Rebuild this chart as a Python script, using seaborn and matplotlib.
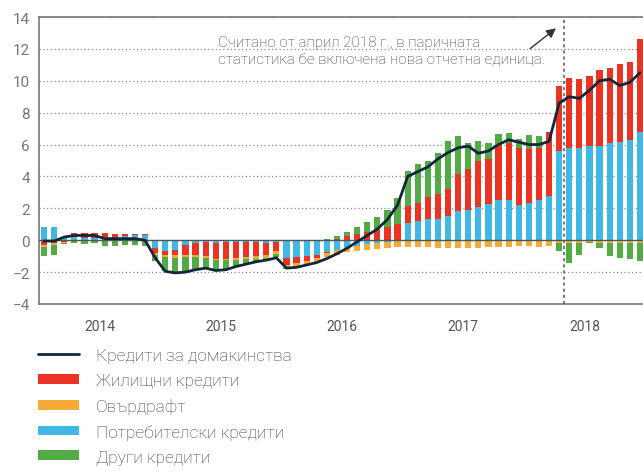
import numpy as np
import pandas as pd
import matplotlib
matplotlib.use('Agg')
import matplotlib.pyplot as plt
import matplotlib.transforms as mtransforms
import seaborn as sns
from matplotlib.lines import Line2D
from matplotlib.patches import Patch

# месечни данни, 01.2014 - 12.2018 (процентни пункти)
months = pd.date_range('2014-01-01', periods=60, freq='MS')
years = ['2014', '2015', '2016', '2017', '2018']

consumer = [0.8, 0.8, 0.2, 0.2, 0.15, 0.15, 0.2, 0.2, 0.25, 0.3, 0.35, -0.5,
            -0.7, -0.6, -0.3, -0.15, -0.1, -0.15, -0.1, -0.1, -0.1, -0.1, -0.15, -0.1,
            -1.1, -1.05, -1.0, -0.9, -0.75, -0.6, -0.45, -0.35, -0.25, -0.15, -0.1, 0.0,
            1.1, 1.2, 1.3, 1.35, 1.5, 1.85, 1.9, 2.1, 2.3, 2.55, 2.55, 2.2,
            2.35, 2.55, 2.8, 5.6, 5.8, 5.8, 5.9, 5.9, 6.1, 6.15, 6.3, 6.8]
housing = [-0.3, -0.2, -0.1, 0.25, 0.3, 0.3, 0.25, 0.2, 0.15, 0.1, 0.05, -0.3,
           -0.2, -0.35, -0.6, -0.8, -0.9, -1.0, -1.05, -1.0, -0.95, -0.9, -0.8, -0.6,
           -0.45, -0.4, -0.3, -0.2, -0.05, 0.1, 0.25, 0.4, 0.5, 0.65, 0.8, 1.0,
           1.05, 1.15, 1.4, 1.55, 1.7, 2.3, 2.55, 2.9, 2.8, 3.35, 3.55, 3.6,
           3.4, 3.25, 4.0, 4.1, 4.35, 4.3, 4.4, 4.8, 4.7, 4.9, 4.9, 5.8]
overdraft = [-0.1, -0.1, -0.05, -0.05, -0.05, -0.05, -0.05, -0.05, -0.05, -0.05, -0.05, -0.1,
             -0.15, -0.15, -0.15, -0.1, -0.1, -0.1, -0.1, -0.15, -0.15, -0.15, -0.15, -0.15,
             -0.2, -0.2, -0.25, -0.25, -0.25, -0.3, -0.3, -0.35, -0.35, -0.4, -0.4, -0.45,
             -0.45, -0.45, -0.45, -0.5, -0.5, -0.5, -0.5, -0.5, -0.45, -0.45, -0.45, -0.35,
             -0.35, -0.4, -0.35, -0.15, -0.15, -0.15, -0.1, -0.15, -0.15, -0.15, -0.15, -0.15]
other = [-0.6, -0.6, -0.1, -0.15, -0.2, -0.15, -0.3, -0.3, -0.25, -0.25, -0.3, -0.4,
         -0.9, -0.95, -0.95, -0.8, -0.65, -0.65, -0.6, -0.4, -0.3, -0.2, -0.15, -0.2,
         -0.05, -0.05, 0.0, 0.0, 0.05, 0.15, 0.25, 0.45, 0.65, 0.8, 1.1, 1.65,
         2.2, 2.4, 2.3, 2.6, 3.05, 2.4, 1.65, 1.25, 1.0, 0.75, 0.65, 0.55,
         0.85, 0.75, 0.0, -0.55, -1.25, -0.8, -0.1, -0.35, -0.85, -0.95, -1.05, -1.15]
households = [-0.05, -0.05, 0.2, 0.3, 0.3, 0.3, 0.1, 0.1, 0.1, 0.1, 0.0, -1.1,
              -1.95, -2.05, -2.0, -1.85, -1.75, -1.9, -1.85, -1.65, -1.5, -1.35, -1.25, -1.1,
              -1.75, -1.7, -1.55, -1.4, -1.15, -0.85, -0.5, -0.1, 0.3, 0.7, 1.3, 2.2,
              4.0, 4.3, 4.6, 5.1, 5.5, 5.8, 5.9, 5.45, 5.6, 6.0, 6.3, 6.15,
              6.0, 6.0, 6.2, 8.6, 9.0, 8.9, 9.4, 10.0, 10.1, 9.7, 9.9, 10.5]

labels = ['Кредити за домакинства', 'Жилищни кредити', 'Овърдрафт',
          'Потребителски кредити', 'Други кредити']

c_line = '#13263a'
c_red = '#ea3323'
c_orange = '#f5ab35'
c_blue = '#41b7e6'
c_green = '#52ab45'
c_text = '#555555'

sns.set_style('white')
plt.rcParams['font.family'] = ['Roboto', 'DejaVu Sans']

fig = plt.figure(figsize=(6.43, 4.77), dpi=100)
ax = fig.add_axes([39 / 643, 1 - 305 / 477, 606 / 643, 287 / 477])

x = np.arange(len(months))
pos = np.zeros(len(x))
neg = np.zeros(len(x))
# редът на натрупване: потребителски, жилищни, овърдрафт, други
for vals, col in [(consumer, c_blue), (housing, c_red), (overdraft, c_orange), (other, c_green)]:
    v = np.array(vals)
    bottom = np.where(v >= 0, pos, neg)
    ax.bar(x, v, bottom=bottom, width=0.62, color=col, linewidth=0, zorder=2)
    pos += np.where(v >= 0, v, 0)
    neg += np.where(v < 0, v, 0)

sns.lineplot(x=x, y=households, color=c_line, linewidth=2, ax=ax, zorder=5)

ax.axhline(0, color='#555555', linewidth=1, zorder=3)
ax.axvline(51.5, color='#555555', linewidth=1.1, linestyle=(0, (2, 2)), zorder=4)

ax.set_xlim(-0.5, 59.5)
ax.set_ylim(-4, 14)
ax.set_yticks(range(-4, 15, 2))
ax.yaxis.grid(True, linestyle=(0, (1, 2)), color='#888888', linewidth=0.9)
ax.set_axisbelow(True)

ax.set_xticks(np.arange(-0.5, 60, 12))
ax.set_xticklabels([])
ax.set_xticks(np.arange(-0.5, 60, 1), minor=True)
ax.tick_params(axis='x', which='major', length=14, width=1, color='#666666', direction='out')
ax.tick_params(axis='x', which='minor', length=6, width=0.8, color='#666666', direction='out')
ax.tick_params(axis='y', length=5, width=1, color='#666666', direction='inout',
               labelsize=11, labelcolor='#777777', pad=4)
ax.set_xlabel('')
ax.set_ylabel('')

for side in ['left', 'top', 'bottom']:
    ax.spines[side].set_visible(True)
    ax.spines[side].set_color('#777777')
    ax.spines[side].set_linewidth(1.2)
ax.spines['right'].set_visible(False)

trans = mtransforms.blended_transform_factory(ax.transData, ax.transAxes)
for i, yr in enumerate(years):
    ax.annotate(yr, xy=(i * 12 + 5.5, 0), xycoords=trans, xytext=(0, -16),
                textcoords='offset points', ha='center', va='center',
                fontsize=10, color=c_text)

ax.text(17.2, 12.85, 'Считано от април 2018 г., в паричната\nстатистика бе включена нова отчетна единица.',
        fontsize=11, color='#3a3a3a', va='top', ha='left', linespacing=1.3,
        fontweight='light')
ax.annotate('', xy=(50.9, 13.4), xytext=(47.9, 11.9),
            arrowprops=dict(arrowstyle='-|>', color='#333333', lw=1, mutation_scale=14))

handles = [Line2D([0], [0], color=c_line, linewidth=2),
           Patch(facecolor=c_red, linewidth=0),
           Patch(facecolor=c_orange, linewidth=0),
           Patch(facecolor=c_blue, linewidth=0),
           Patch(facecolor=c_green, linewidth=0)]
fig.legend(handles, labels, loc='upper left', bbox_to_anchor=(38 / 643, 1 - 349 / 477),
           frameon=False, prop={'size': 12.5, 'weight': 'light'}, handlelength=2.35,
           handleheight=0.5, handletextpad=1.0, labelspacing=0.57, labelcolor='#3a3a3a',
           borderaxespad=0, borderpad=0)

fig.savefig('out.png', dpi=100)
plt.close(fig)
